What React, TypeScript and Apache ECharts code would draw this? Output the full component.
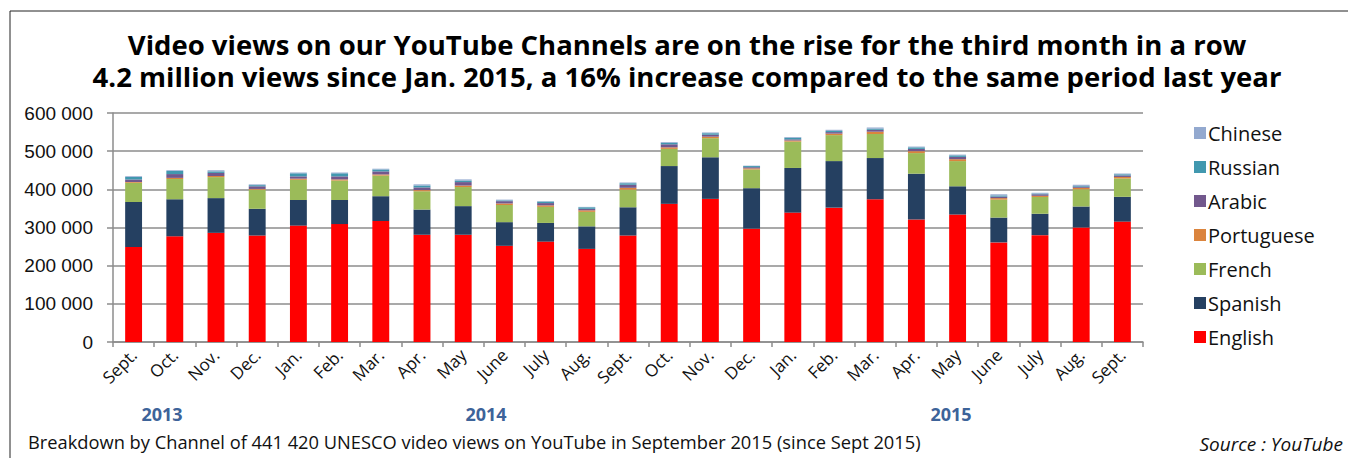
import React, { useEffect, useRef } from "react";
import * as echarts from "echarts";

const categories = ["Sept.", "Oct.", "Nov.", "Dec.", "Jan.", "Feb.", "Mar.", "Apr.", "May", "June", "July", "Aug.", "Sept.", "Oct.", "Nov.", "Dec.", "Jan.", "Feb.", "Mar.", "Apr.", "May", "June", "July", "Aug.", "Sept."];

const english = [249000, 277000, 286000, 279000, 305000, 309000, 317000, 281000, 281000, 252000, 263000, 244000, 279000, 362000, 375000, 297000, 339000, 352000, 374000, 321000, 334000, 261000, 280000, 300000, 315420];
const spanish = [118000, 97000, 91000, 70000, 67000, 63000, 65000, 66000, 75000, 62000, 49000, 59000, 74000, 99000, 109000, 106000, 117000, 122000, 108000, 120000, 74000, 65000, 56000, 55000, 65000];
const french = [50000, 53000, 55000, 50000, 53000, 51000, 54000, 48000, 50000, 45000, 42000, 38000, 46000, 45000, 50000, 49000, 69000, 68000, 63000, 54000, 66000, 47000, 44000, 45000, 48000];
const portuguese = [2000, 3000, 3000, 2000, 3000, 3000, 3000, 3000, 4000, 4000, 4000, 4000, 5000, 4000, 4000, 3000, 3000, 4000, 6000, 5000, 5000, 4000, 3000, 4000, 4000];
const arabic = [7000, 10000, 8000, 7000, 6000, 8000, 8000, 7000, 9000, 6000, 6000, 4000, 8000, 8000, 5000, 3000, 3000, 4000, 5000, 6000, 6000, 4000, 4000, 3000, 4000];
const russian = [6000, 8000, 4000, 3000, 8000, 8000, 5000, 5000, 4000, 2000, 4000, 4000, 4000, 4000, 4000, 3000, 4000, 3000, 3000, 4000, 4000, 3000, 2000, 2000, 3000];
const chinese = [2000, 2000, 3000, 2000, 2000, 2000, 2000, 3000, 3000, 2000, 1000, 1000, 2000, 2000, 2000, 1000, 2000, 3000, 3000, 2000, 2000, 3000, 2000, 3000, 2000];

const seriesNames = ["English", "Spanish", "French", "Portuguese", "Arabic", "Russian", "Chinese"];
const seriesValues = [english, spanish, french, portuguese, arabic, russian, chinese];
const seriesColors = ["#FF0000", "#254061", "#9BBB59", "#DB843D", "#72588D", "#4198AF", "#93A9CF"];

const yearLabels = ["2013", "2014", "2015"];
const yearCenters = [162, 486, 951];

const titleLines = [
  "Video views on our YouTube Channels are on the rise for the third month in a row",
  "4.2 million views since Jan. 2015, a 16% increase compared to the same period last year",
];
const footerText = "Breakdown by Channel of 441 420 UNESCO video views on YouTube in September 2015 (since Sept 2015)";
const sourceText = "Source : YouTube";

const FONT = "'Open Sans', Lato, sans-serif";

export default function App() {
  const ref = useRef<HTMLDivElement>(null);
  useEffect(() => {
    if (!ref.current) return;
    const chart = echarts.init(ref.current, null, { renderer: "svg" });
    const gridColor = "#8c8c8c";
    chart.setOption({
      animation: false,
      backgroundColor: "#ffffff",
      grid: { left: 113, right: 205, top: 113, bottom: 116 },
      legend: {
        orient: "vertical",
        left: 1189,
        top: 118,
        itemWidth: 12,
        itemHeight: 12,
        itemGap: 14,
        icon: "rect",
        data: seriesNames.slice().reverse(),
        textStyle: { fontFamily: FONT, fontSize: 20, color: "#111", lineHeight: 20, padding: [0, 0, 0, -3] },
      },
      xAxis: {
        type: "category",
        data: categories,
        axisLine: { lineStyle: { color: gridColor, width: 1.5 } },
        axisTick: { show: true, length: 5, alignWithLabel: false, lineStyle: { color: gridColor, width: 1.5 } },
        axisLabel: { rotate: 45, margin: 10, fontFamily: FONT, fontSize: 17, color: "#111", interval: 0 },
      },
      yAxis: {
        type: "value",
        min: 0,
        max: 600000,
        interval: 100000,
        axisLine: { show: true, lineStyle: { color: gridColor, width: 1.5 } },
        axisTick: { show: true, length: 6, lineStyle: { color: gridColor, width: 1.5 } },
        splitLine: { lineStyle: { color: gridColor, width: 1.5 } },
        axisLabel: {
          margin: 20,
          fontFamily: "'Liberation Sans', Arial, sans-serif",
          fontSize: 19,
          color: "#111",
          formatter: (v: number) => String(v).replace(/\B(?=(\d{3})+(?!\d))/g, " "),
        },
      },
      series: seriesNames.map((name, i) => ({
        name,
        type: "bar",
        stack: "total",
        barWidth: "41%",
        data: seriesValues[i],
        itemStyle: { color: seriesColors[i] },
      })),
      graphic: [
        {
          type: "rect",
          shape: { x: 10, y: 11, width: 1400, height: 500 },
          style: { fill: "none", stroke: "#222", lineWidth: 1 },
          silent: true,
        },
        {
          type: "text",
          x: 687,
          y: 60,
          style: {
            text: titleLines.join("\n"),
            font: `bold 27.5px ${FONT}`,
            lineHeight: 32,
            fill: "#000",
            textAlign: "center",
            textVerticalAlign: "middle",
          },
        },
        ...yearLabels.map((t, i) => ({
          type: "text",
          x: yearCenters[i],
          y: 414,
          style: { text: t, font: `bold 18px ${FONT}`, fill: "#3D6399", textAlign: "center", textVerticalAlign: "middle" },
        })),
        {
          type: "text",
          x: 28,
          y: 441,
          style: { text: footerText, font: `18.3px ${FONT}`, fill: "#111", textAlign: "left", textVerticalAlign: "middle" },
        },
        {
          type: "text",
          x: 1343,
          y: 444,
          style: { text: sourceText, font: `italic 19px ${FONT}`, fill: "#111", textAlign: "right", textVerticalAlign: "middle" },
        },
      ],
    });
    return () => chart.dispose();
  }, []);
  return (
    <div style={{ position: "absolute", left: 0, top: 0, width: 1348, height: 458, background: "#fff" }}>
      <div ref={ref} style={{ width: 1348, height: 458 }} />
    </div>
  );
}
